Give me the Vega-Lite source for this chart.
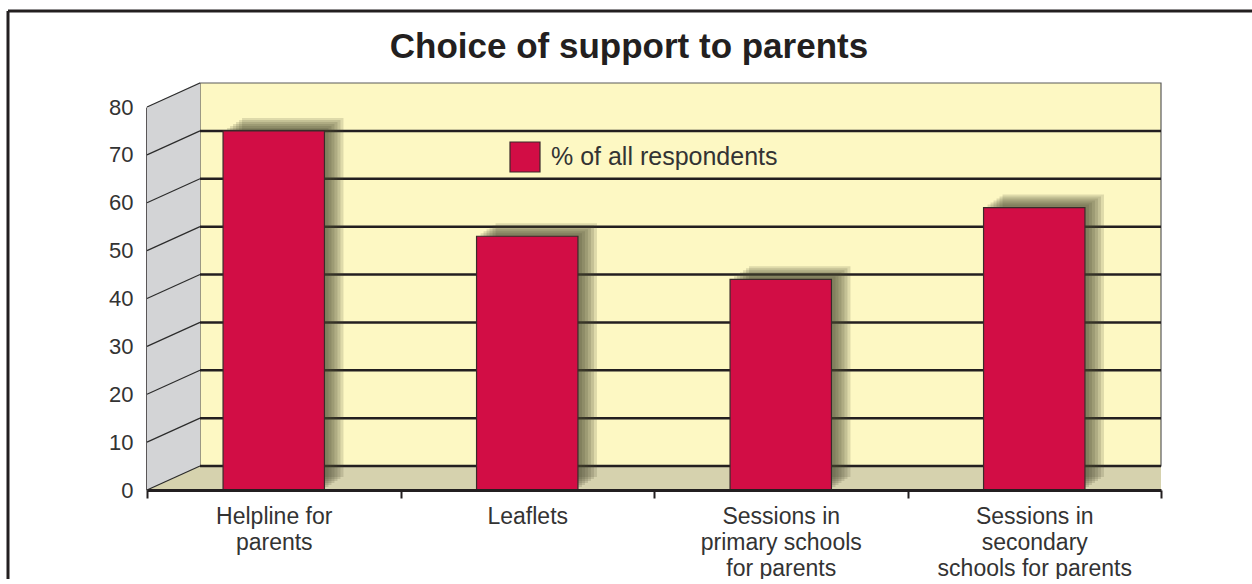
{
  "$schema": "https://vega.github.io/schema/vega-lite/v6.json",
  "width": 1300,
  "height": 600,
  "autosize": {"type": "none"},
  "padding": {"left": 8, "top": 11, "right": -56, "bottom": -32},
  "background": "white",
  "config": {
    "view": {"stroke": null},
    "font": "Liberation Sans"
  },
  "title": {
    "text": "Choice of support to parents",
    "fontSize": 35,
    "fontWeight": "bold",
    "font": "Liberation Sans",
    "color": "#231f20",
    "anchor": "middle",
    "frame": "group",
    "offset": 0,
    "dy": 55,
    "dx": -29
  },
  "datasets": {
    "bars": [
      {"category": "Helpline for parents", "value": 75, "series": "% of all respondents"},
      {"category": "Leaflets", "value": 53, "series": "% of all respondents"},
      {"category": "Sessions in primary schools for parents", "value": 44, "series": "% of all respondents"},
      {"category": "Sessions in secondary schools for parents", "value": 59, "series": "% of all respondents"}
    ],
    "levels": [
      {"v": 0}, {"v": 10}, {"v": 20}, {"v": 30}, {"v": 40}, {"v": 50}, {"v": 60}, {"v": 70}, {"v": 80}
    ],
    "one": [{}]
  },
  "layer": [
    {
      "data": {"name": "one"},
      "mark": {"type": "rule", "color": "#231f20", "strokeWidth": 3},
      "encoding": {"y": {"value": 0}}
    },
    {
      "data": {"name": "one"},
      "mark": {"type": "rule", "color": "#231f20", "strokeWidth": 3},
      "encoding": {"x": {"value": 0}}
    },
    {
      "data": {"name": "one"},
      "mark": {"type": "rect", "fill": "#fdf8c3", "stroke": "#5a5a5a", "strokeWidth": 1.2, "xOffset": 53, "yOffset": -24, "y2Offset": -24},
      "encoding": {
        "x": {"datum": "Helpline for parents", "type": "nominal", "bandPosition": 0, "title": null},
        "x2": {"datum": "Sessions in secondary schools for parents", "bandPosition": 1},
        "y": {"datum": 80, "type": "quantitative", "title": null},
        "y2": {"datum": 0}
      }
    },
    {
      "data": {"name": "one"},
      "mark": {"type": "rect", "fill": "#d6d2ae", "yOffset": -24},
      "encoding": {
        "x": {"datum": "Helpline for parents", "type": "nominal", "bandPosition": 0, "title": null},
        "x2": {"datum": "Sessions in secondary schools for parents", "bandPosition": 1},
        "y": {"datum": 0, "type": "quantitative", "title": null},
        "y2": {"datum": 0}
      }
    },
    {
      "data": {"name": "one"},
      "mark": {"type": "point", "filled": true, "opacity": 1, "strokeWidth": 0, "color": "#d3d4d6", "size": 4, "shape": "M0,0L0,-383L53,-408L53,-24Z"},
      "encoding": {
        "x": {"datum": "Helpline for parents", "type": "nominal", "bandPosition": 0, "title": null},
        "y": {"datum": 0, "type": "quantitative", "title": null}
      }
    },
    {
      "data": {"name": "levels"},
      "mark": {"type": "rule", "color": "#2b2b2b", "strokeWidth": 1.2, "x2Offset": 53, "y2Offset": -24},
      "encoding": {
        "x": {"datum": "Helpline for parents", "type": "nominal", "bandPosition": 0, "title": null},
        "x2": {"datum": "Helpline for parents", "bandPosition": 0},
        "y": {"field": "v", "type": "quantitative", "title": null},
        "y2": {"field": "v"}
      }
    },
    {
      "data": {"name": "levels"},
      "transform": [{"filter": "datum.v < 80"}],
      "mark": {"type": "rule", "color": "#231f20", "strokeWidth": 2.5, "xOffset": 53, "yOffset": -24},
      "encoding": {
        "x": {"datum": "Helpline for parents", "type": "nominal", "bandPosition": 0, "title": null},
        "x2": {"datum": "Sessions in secondary schools for parents", "bandPosition": 1},
        "y": {"field": "v", "type": "quantitative", "title": null}
      }
    },
    {
      "data": {"name": "bars"},
      "mark": {"type": "bar", "width": {"band": 0.4}, "color": "#4a4830", "opacity": 0.17, "xOffset": 19, "yOffset": -13, "y2Offset": -13},
      "encoding": {
        "x": {"field": "category", "type": "nominal", "title": null},
        "y": {"field": "value", "type": "quantitative", "title": null}
      }
    },
    {
      "data": {"name": "bars"},
      "mark": {"type": "bar", "width": {"band": 0.4}, "color": "#4a4830", "opacity": 0.17, "xOffset": 16, "yOffset": -11, "y2Offset": -11},
      "encoding": {
        "x": {"field": "category", "type": "nominal", "title": null},
        "y": {"field": "value", "type": "quantitative", "title": null}
      }
    },
    {
      "data": {"name": "bars"},
      "mark": {"type": "bar", "width": {"band": 0.4}, "color": "#4a4830", "opacity": 0.17, "xOffset": 13, "yOffset": -9, "y2Offset": -9},
      "encoding": {
        "x": {"field": "category", "type": "nominal", "title": null},
        "y": {"field": "value", "type": "quantitative", "title": null}
      }
    },
    {
      "data": {"name": "bars"},
      "mark": {"type": "bar", "width": {"band": 0.4}, "color": "#4a4830", "opacity": 0.17, "xOffset": 10, "yOffset": -7, "y2Offset": -7},
      "encoding": {
        "x": {"field": "category", "type": "nominal", "title": null},
        "y": {"field": "value", "type": "quantitative", "title": null}
      }
    },
    {
      "data": {"name": "bars"},
      "mark": {"type": "bar", "width": {"band": 0.4}, "color": "#4a4830", "opacity": 0.17, "xOffset": 7, "yOffset": -5, "y2Offset": -5},
      "encoding": {
        "x": {"field": "category", "type": "nominal", "title": null},
        "y": {"field": "value", "type": "quantitative", "title": null}
      }
    },
    {
      "data": {"name": "bars"},
      "mark": {"type": "bar", "width": {"band": 0.4}, "color": "#4a4830", "opacity": 0.17, "xOffset": 4, "yOffset": -3, "y2Offset": -3},
      "encoding": {
        "x": {"field": "category", "type": "nominal", "title": null},
        "y": {"field": "value", "type": "quantitative", "title": null}
      }
    },
    {
      "data": {"name": "bars"},
      "mark": {"type": "bar", "width": {"band": 0.4}, "stroke": "#3b2a2a", "strokeWidth": 1.2, "opacity": 1},
      "encoding": {
        "x": {
          "field": "category",
          "type": "nominal",
          "title": null,
          "scale": {
            "domain": ["Helpline for parents", "Leaflets", "Sessions in primary schools for parents", "Sessions in secondary schools for parents"],
            "range": [139, 1153],
            "paddingInner": 0,
            "paddingOuter": 0
          },
          "axis": {
            "orient": "bottom",
            "offset": -121,
            "title": null,
            "tickBand": "extent",
            "tickSize": 8,
            "tickWidth": 2,
            "tickColor": "#231f20",
            "domainColor": "#231f20",
            "domainWidth": 3,
            "grid": false,
            "labelAngle": 0,
            "labelAlign": "center",
            "labelFont": "Liberation Sans",
            "labelFontSize": 23,
            "labelLineHeight": 26,
            "labelPadding": 18,
            "labelColor": "#333333",
            "labelOverlap": false,
            "labelLimit": 0,
            "labelExpr": "datum.value == 'Helpline for parents' ? ['Helpline for', 'parents'] : datum.value == 'Sessions in primary schools for parents' ? ['Sessions in', 'primary schools', 'for parents'] : datum.value == 'Sessions in secondary schools for parents' ? ['Sessions in', 'secondary', 'schools for parents'] : datum.label"
          }
        },
        "y": {
          "field": "value",
          "type": "quantitative",
          "title": null,
          "scale": {"domain": [0, 80], "range": [479, 96], "nice": false},
          "axis": {
            "orient": "left",
            "offset": -139,
            "title": null,
            "values": [0, 10, 20, 30, 40, 50, 60, 70, 80],
            "ticks": false,
            "grid": false,
            "domainColor": "#231f20",
            "domainWidth": 2.5,
            "labelFont": "Liberation Sans",
            "labelFontSize": 22,
            "labelColor": "#333333",
            "labelPadding": 14
          }
        },
        "color": {
          "field": "series",
          "type": "nominal",
          "scale": {"range": ["#d20d45"]},
          "legend": {
            "orient": "none",
            "legendX": 501,
            "legendY": 130,
            "title": null,
            "padding": 0,
            "symbolType": "square",
            "symbolSize": 900,
            "symbolStrokeColor": "#3b2a2a",
            "symbolStrokeWidth": 1.2,
            "symbolOpacity": 1,
            "labelFont": "Liberation Sans",
            "labelFontSize": 25,
            "labelColor": "#333333",
            "labelOffset": 10,
            "labelLimit": 0
          }
        }
      }
    }
  ]
}
